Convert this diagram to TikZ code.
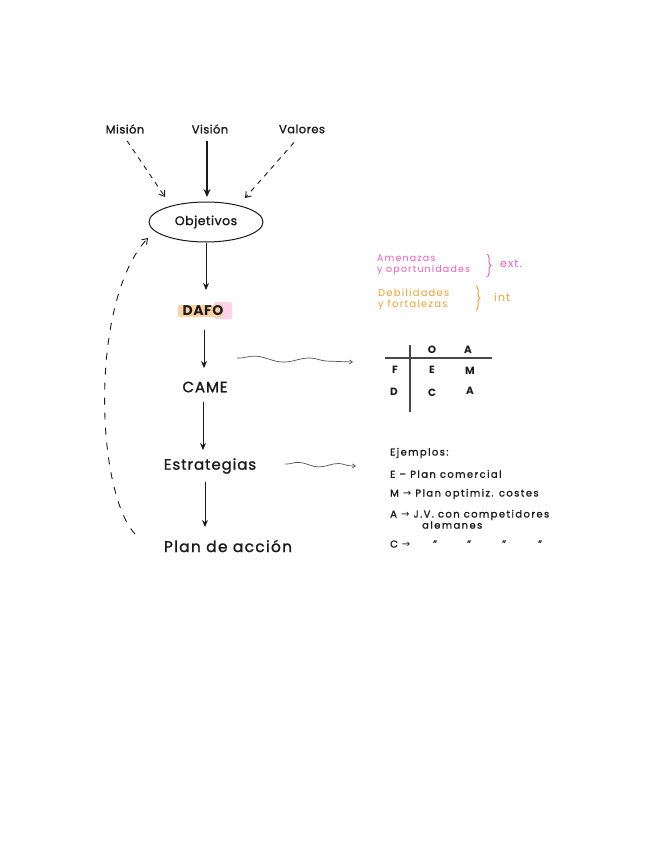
\documentclass[tikz,border=0pt]{standalone}
\usepackage{fontspec}
\setmainfont{Poppins}
\newfontfamily\symf{DejaVu Sans}
\usetikzlibrary{arrows.meta,decorations.pathmorphing,shapes.geometric,decorations.pathreplacing}
\definecolor{pinkc}{HTML}{F25CC4}
\definecolor{orangec}{HTML}{F5A030}
\definecolor{hlorange}{HTML}{FBD3A2}
\definecolor{hlpink}{HTML}{FAD2EA}
\definecolor{ink}{HTML}{1A1A1A}
\newcommand{\rarr}{{\symf →}}
\begin{document}
\begin{tikzpicture}[x=1pt,y=-1pt,
  lbl/.style={font=\fontsize{11.5}{13}\selectfont\addfontfeature{LetterSpace=4,FakeBold=1.2}, text=ink, inner sep=1pt},
  big/.style={font=\fontsize{15}{17}\selectfont\addfontfeature{LetterSpace=6,FakeBold=1.2}, text=ink, inner sep=1pt},
  small/.style={font=\fontsize{10}{11}\selectfont\addfontfeature{LetterSpace=14,FakeBold=1}, text=ink, inner sep=1pt, anchor=west},
  solidarr/.style={-{Stealth[length=8pt,width=7pt]}, line width=1.2pt, draw=ink},
  thinarr/.style={-{Stealth[length=7pt,width=6pt]}, line width=0.9pt, draw=ink},
  dasharr/.style={-{Straight Barb[length=5pt,width=7pt]}, line width=0.9pt, draw=ink, dash pattern=on 5pt off 5pt},
  wavy/.style={-{Straight Barb[length=3pt,width=4pt]}, line width=0.7pt, draw=ink!75, decorate, decoration={snake, amplitude=2.5pt, segment length=55pt, post length=3pt, pre length=1pt}},
]
\useasboundingbox (0,0) rectangle (656,848);
\fill[white] (0,0) rectangle (656,848);

% top labels
\node[lbl] (mision) at (125,129) {Misión};
\node[lbl] (vision) at (210,129) {Visión};
\node[lbl] (valores) at (302,129) {Valores};

\node[ellipse, draw=ink, line width=1pt, minimum width=114pt, minimum height=40pt, inner sep=0pt, lbl, font=\fontsize{12.5}{14}\selectfont\addfontfeature{LetterSpace=4,FakeBold=1.2}] (obj) at (206,222) {Objetivos};

\coordinate (m1) at (165,197);
\coordinate (v1) at (207,197);
\coordinate (w1) at (245,198);
\draw[dasharr] (mision.south) ++(2,6) -- (m1);
\draw[solidarr] (vision.south) ++(-3,6) -- (v1);
\draw[dasharr] (valores.south) ++(-8,8) -- (w1);

% DAFO with highlight
\fill[hlpink, rounded corners=2pt] (214,302) rectangle (232,319);
\fill[hlorange, rounded corners=2pt] (178,305) rectangle (223,317);
\node[big, font=\fontsize{14}{16}\bfseries\addfontfeature{LetterSpace=4}] (dafo) at (203,311) {DAFO};

\node[big] (came) at (205,387) {CAME};
\node[big] (estr) at (210,466) {Estrategias};
\node[big, font=\fontsize{15.5}{17}\selectfont\addfontfeature{LetterSpace=8,FakeBold=1.2}] (plan) at (228,546) {Plan de acción};

\draw[thinarr] (obj.south) -- (206,290);
\draw[thinarr] (204,330) -- (204,368);
\draw[thinarr] (203,402) -- (203,450);
\draw[thinarr] (205,482) -- (205,527);

% feedback dashed curve
\coordinate (fb) at (135,534);
\draw[dasharr, dash pattern=on 7pt off 8pt] (fb) .. controls (95,490) and (90,300) .. (148,238);

% wavy arrows
\coordinate (t1a) at (237,358);
\coordinate (t1b) at (353,362);
\draw[wavy] (t1a) -- (t1b);
\coordinate (t2a) at (285,464);
\coordinate (t2b) at (356,466);
\draw[wavy, decoration={snake, amplitude=2pt, segment length=40pt, post length=3pt}] (t2a) -- (t2b);

% pink / orange notes
\node[small, text=pinkc, align=left, font=\fontsize{9.5}{10.5}\selectfont\addfontfeature{LetterSpace=12}] (amen) at (376,265) {Amenazas\\y oportunidades};
\draw[pinkc, line width=1pt, decorate, decoration={brace, amplitude=4pt}] (487,254) -- (487,277);
\node[small, text=pinkc, font=\fontsize{11}{12}\selectfont\addfontfeature{LetterSpace=10}] (ext) at (499,264) {ext.};
\node[small, text=orangec, align=left, font=\fontsize{10}{11}\selectfont\addfontfeature{LetterSpace=12}] (deb) at (377,299) {Debilidades\\y fortalezas};
\draw[orangec, line width=1pt, decorate, decoration={brace, amplitude=4pt}] (476,286) -- (476,310);
\node[small, text=orangec, font=\fontsize{11}{12}\selectfont\addfontfeature{LetterSpace=10}] (int) at (493,297) {int};

% table
\draw[ink!80, line width=1.3pt] (410,345) -- (410,412);
\draw[ink!80, line width=1.3pt] (385,358) -- (492,358);
\tikzset{cell/.style={font=\fontsize{10.5}{11}\selectfont\bfseries, text=ink, inner sep=0pt}}
\node[cell] (cO) at (432,350) {O};
\node[cell] (cA1) at (468,350) {A};
\node[cell] (cF) at (395,370) {F};
\node[cell] (cE) at (432,370) {E};
\node[cell] (cM) at (470,371) {M};
\node[cell] (cD) at (394,392) {D};
\node[cell] (cC) at (432,393) {C};
\node[cell] (cA2) at (470,391) {A};

% examples
\node[small] (ej) at (389,453) {Ejemplos:};
\node[small] (ex1) at (389,474) {E – Plan comercial};
\node[small] (ex2) at (389,494) {M \rarr{} Plan optimiz. costes};
\node[small] (ex3) at (389,515) {A \rarr{} J.V. con competidores};
\node[small] (ex3b) at (421,525) {alemanes};
\node[small] (ex4) at (389,544) {C \rarr};
\node[small] (d1) at (432,544) {"};
\node[small] (d2) at (466,544) {"};
\node[small] (d3) at (501,544) {"};
\node[small] (d4) at (537,544) {"};
\end{tikzpicture}
\end{document}
